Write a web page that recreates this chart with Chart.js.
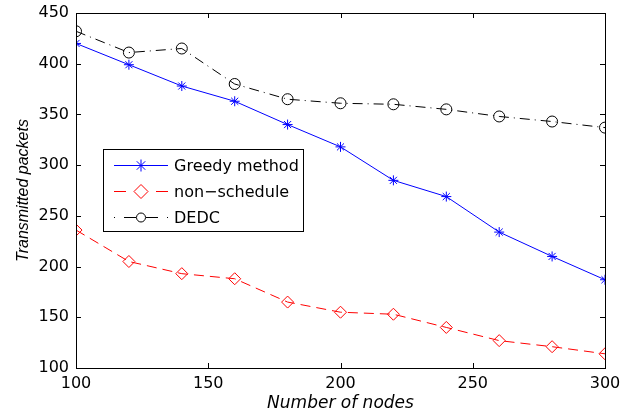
<!DOCTYPE html>
<html>
<head>
<meta charset="utf-8">
<script src="https://cdn.jsdelivr.net/npm/chart.js@4"></script>
<style>
  html, body { margin: 0; padding: 0; background: #fff; }
  #wrap { width: 620px; height: 419px; }
</style>
</head>
<body>
<div id="wrap"><canvas id="chart" width="620" height="419"></canvas></div>
<script>
const nodes = [100, 120, 140, 160, 180, 200, 220, 240, 260, 280, 300];
const greedy = [420, 399, 378, 363, 340, 318, 285, 269, 234, 210, 187];
const nonSchedule = [236, 205, 193, 188, 165, 155, 153, 140, 127, 121, 114];
const dedc = [432, 411, 415, 380, 365, 361, 360, 355, 348, 343, 337];
const xTicks = [100, 150, 200, 250, 300];
const yTicks = [100, 150, 200, 250, 300, 350, 400, 450];

// the figure is a bit stretched sideways, DejaVu is wider than Helvetica
const wideFont = "'DejaVu Sans', sans-serif";
const narrowFont = "'Liberation Sans', Arial, sans-serif";

function toPoints(ys) {
  return nodes.map((x, i) => ({ x: x, y: ys[i] }));
}

// inward ticks on all four sides
const boxTicks = {
  id: "boxTicks",
  afterDraw(chart) {
    const ctx = chart.ctx;
    const a = chart.chartArea;
    const xs = chart.scales.x;
    const ys = chart.scales.y;
    ctx.save();
    ctx.strokeStyle = "#000";
    ctx.lineWidth = 1;
    ctx.strokeRect(Math.round(a.left) + 0.5, Math.round(a.top) + 0.5,
      Math.round(a.right - a.left), Math.round(a.bottom - a.top));
    ctx.beginPath();
    xTicks.forEach((v) => {
      const px = Math.round(xs.getPixelForValue(v)) + 0.5;
      ctx.moveTo(px, a.bottom); ctx.lineTo(px, a.bottom - 5);
      ctx.moveTo(px, a.top); ctx.lineTo(px, a.top + 5);
    });
    yTicks.forEach((v) => {
      const py = Math.round(ys.getPixelForValue(v)) + 0.5;
      ctx.moveTo(a.left, py); ctx.lineTo(a.left + 5, py);
      ctx.moveTo(a.right, py); ctx.lineTo(a.right - 5, py);
    });
    ctx.stroke();
    ctx.restore();
  }
};

// sample line pieces for each legend row: [from, to] in px from the row start
const legendPieces = [
  [[0, 54]],
  [[0, 12], [42, 54]],
  [[0, 1], [10, 22], [32, 44], [53, 54]]
];
const legendMarkerSize = [6, 7, 4.5];

const boxLegend = {
  id: "boxLegend",
  afterDraw(chart) {
    const ctx = chart.ctx;
    const left = 103, top = 149, w = 200, h = 82;
    ctx.save();
    ctx.fillStyle = "#fff";
    ctx.fillRect(left, top, w, h);
    ctx.strokeStyle = "#000";
    ctx.lineWidth = 1;
    ctx.strokeRect(left + 0.5, top + 0.5, w, h);
    chart.data.datasets.forEach((ds, i) => {
      const y = 165.5 + i * 26;
      const x0 = 114;
      ctx.strokeStyle = ds.borderColor;
      ctx.lineWidth = 1;
      ctx.beginPath();
      legendPieces[i].forEach((p) => {
        ctx.moveTo(x0 + p[0], y);
        ctx.lineTo(x0 + p[1], y);
      });
      ctx.stroke();
      ctx.fillStyle = "rgba(0,0,0,0)";
      ctx.strokeStyle = ds.pointBorderColor;
      Chart.helpers.drawPoint(ctx, {
        pointStyle: ds.pointStyle,
        radius: legendMarkerSize[i],
        borderWidth: 1
      }, x0 + 27, y);
      ctx.fillStyle = "#000";
      ctx.font = "16px " + wideFont;
      ctx.textBaseline = "middle";
      ctx.textAlign = "left";
      ctx.fillText(ds.label, 174, y + 1);
    });
    ctx.restore();
  }
};

new Chart(document.getElementById("chart"), {
  type: "line",
  data: {
    datasets: [
      {
        label: "Greedy method",
        data: toPoints(greedy),
        borderColor: "#0000ff",
        borderWidth: 1,
        pointStyle: "star",
        pointRadius: 5,
        pointBorderColor: "#0000ff",
        pointBackgroundColor: "rgba(0,0,0,0)",
        pointBorderWidth: 1
      },
      {
        label: "non\u2212schedule",
        data: toPoints(nonSchedule),
        borderColor: "#ff0000",
        borderWidth: 1,
        borderDash: [10, 6],
        pointStyle: "rectRot",
        pointRadius: 6,
        pointBorderColor: "#ff0000",
        pointBackgroundColor: "rgba(0,0,0,0)",
        pointBorderWidth: 1
      },
      {
        label: "DEDC",
        data: toPoints(dedc),
        borderColor: "#000000",
        borderWidth: 1,
        borderDash: [10, 5, 1, 5],
        pointStyle: "circle",
        pointRadius: 5.5,
        pointBorderColor: "#000000",
        pointBackgroundColor: "rgba(0,0,0,0)",
        pointBorderWidth: 1
      }
    ]
  },
  options: {
    responsive: false,
    animation: false,
    events: [],
    layout: { padding: { top: 13, right: 15, left: 0, bottom: 0 } },
    plugins: {
      legend: { display: false },
      tooltip: { enabled: false }
    },
    scales: {
      x: {
        type: "linear",
        min: 100,
        max: 300,
        afterFit(scale) {
          scale.height = 51;
          scale.paddingLeft = 0;
          scale.paddingRight = 0;
        },
        afterBuildTicks(scale) { scale.ticks = xTicks.map((v) => ({ value: v })); },
        grid: { display: false, drawTicks: false },
        border: { display: false },
        ticks: {
          color: "#000",
          padding: 6,
          maxRotation: 0,
          font: { family: wideFont, size: 16 }
        },
        title: {
          display: true,
          text: "Number of nodes",
          color: "#000",
          padding: { top: 0, bottom: 5 },
          font: { family: wideFont, size: 17, style: "oblique" }
        }
      },
      y: {
        min: 100,
        max: 450,
        afterFit(scale) {
          scale.width = 76;
          scale.paddingTop = 0;
          scale.paddingBottom = 0;
        },
        afterBuildTicks(scale) { scale.ticks = yTicks.map((v) => ({ value: v })); },
        grid: { display: false, drawTicks: false },
        border: { display: false },
        ticks: {
          color: "#000",
          padding: 7,
          font: { family: wideFont, size: 16 }
        },
        title: {
          display: true,
          text: "Transmitted packets",
          color: "#000",
          padding: { top: 14, bottom: 0 },
          font: { family: narrowFont, size: 16, style: "italic" }
        }
      }
    }
  },
  plugins: [boxTicks, boxLegend]
});
</script>
</body>
</html>
